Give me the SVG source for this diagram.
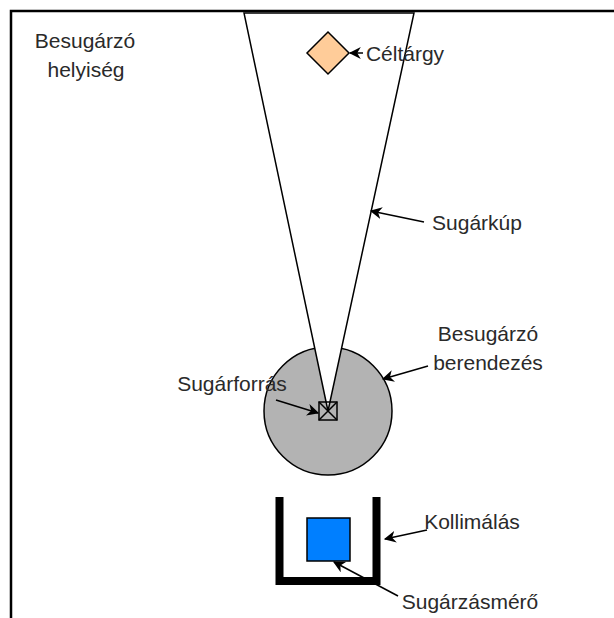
<svg xmlns="http://www.w3.org/2000/svg" width="614" height="618" viewBox="0 0 614 618">
<defs>
<style>
text{font-family:"Liberation Sans",Arial,sans-serif;font-size:21px;fill:#2a2a2a;text-anchor:middle;dominant-baseline:central}
.conn line{stroke:#000;stroke-width:1.5;fill:none}
</style>
<marker id="ah" viewBox="0 0 10 10" refX="9" refY="5" markerWidth="12" markerHeight="12" markerUnits="userSpaceOnUse" orient="auto">
<path d="M0,0 L10,5 L0,10 L3,5 Z" fill="#000"/>
</marker>
</defs>
<rect width="614" height="618" fill="#fff"/>
<g id="room">
<path d="M11,618 V11 H614" fill="none" stroke="#000" stroke-width="2.5"/>
<text x="85" y="40">Besugárzó</text>
<text x="86" y="69">helyiség</text>
</g>
<g id="device">
<circle cx="328" cy="411" r="64" fill="#B3B3B3" stroke="#000" stroke-width="1.5"/>
</g>
<g id="cone">
<path d="M244,13 L414,13 L328,411 Z" fill="#fff" stroke="#000" stroke-width="1.5" stroke-linejoin="miter"/>
</g>
<g id="source">
<rect x="319" y="402" width="18" height="18" fill="none" stroke="#000" stroke-width="1.5"/>
<path d="M319,402 L337,420 M337,402 L319,420" stroke="#000" stroke-width="1.5"/>
</g>
<g id="target">
<path d="M328,32 L349,53 L328,74 L307,53 Z" fill="#FFCC99" stroke="#000" stroke-width="1.5"/>
</g>
<g id="collimator">
<path d="M279.5,497 V581 H376.5 V497" fill="none" stroke="#000" stroke-width="8" stroke-linejoin="miter"/>
</g>
<g id="detector">
<rect x="307" y="518" width="43" height="43" fill="#007FFF" stroke="#000" stroke-width="1.5"/>
</g>
<g id="labels">
<text x="405" y="53">Céltárgy</text>
<text x="477" y="222">Sugárkúp</text>
<text x="488" y="333">Besugárzó</text>
<text x="488" y="362">berendezés</text>
<text x="232" y="383">Sugárforrás</text>
<text x="472" y="521">Kollimálás</text>
<text x="470" y="601">Sugárzásmérő</text>
</g>
<g class="conn" id="connectors">
<line x1="363" y1="53" x2="350" y2="53" marker-end="url(#ah)"/>
<line x1="424" y1="222" x2="371" y2="211" marker-end="url(#ah)"/>
<line x1="428" y1="366" x2="383" y2="379" marker-end="url(#ah)"/>
<line x1="276" y1="400" x2="318" y2="413" marker-end="url(#ah)"/>
<line x1="427" y1="530" x2="385" y2="539" marker-end="url(#ah)"/>
<line x1="398" y1="596" x2="334" y2="562" marker-end="url(#ah)"/>
</g>
</svg>
